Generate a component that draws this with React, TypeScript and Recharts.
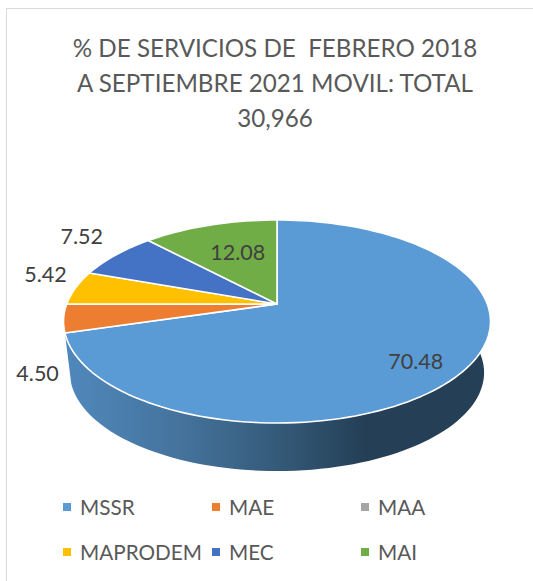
import { Legend, Pie, PieChart } from "recharts";

const categories = ["MSSR", "MAE", "MAA", "MAPRODEM", "MEC", "MAI"];
const shares = [70.48, 4.5, 0, 5.42, 7.52, 12.08];
const colors = ["#5b9bd5", "#ed7d31", "#a5a5a5", "#ffc000", "#4472c4", "#70ad47"];
const titleLines = ["% DE SERVICIOS DE  FEBRERO 2018", "A SEPTIEMBRE 2021 MOVIL: TOTAL", "30,966"];

const data = categories.map((name, i) => ({ name, value: shares[i], fill: colors[i] }));

const FONT = "Lato, 'Open Sans', sans-serif";
const TEXT = "#595959";

// tilted disc: the pie is drawn on a unit circle and projected with perspective
const RX = 210.3;
const RY = 98.5;
const PERSP = 0.1724;
const DEPTH = 51.6;
const BOTTOM_SCALE = 0.97;

function project(cx: number, cy: number, angle: number, r = 1) {
  const rad = (angle * Math.PI) / 180;
  const u = r * Math.cos(rad);
  const v = r * Math.sin(rad);
  const d = 1 + PERSP * v;
  return [cx + (RX * u) / d, cy - (RY * v) / d];
}

function arcPoints(cx: number, cy: number, from: number, to: number) {
  const steps = Math.max(2, Math.ceil(Math.abs(from - to) / 2));
  const pts = [];
  for (let i = 0; i <= steps; i++) {
    pts.push(project(cx, cy, from + ((to - from) * i) / steps));
  }
  return pts;
}

const toPath = (pts: number[][]) =>
  pts.map((p, i) => `${i ? "L" : "M"}${p[0].toFixed(2)} ${p[1].toFixed(2)}`).join(" ");

function TopSlice(props: any) {
  const { cx, cy, startAngle, endAngle, fill } = props;
  if (startAngle === endAngle) return null;
  const d = toPath([[cx, cy], ...arcPoints(cx, cy, startAngle, endAngle)]) + " Z";
  return <path d={d} fill={fill} stroke="#ffffff" strokeWidth={1.6} strokeLinejoin="round" />;
}

function WallSlice(props: any) {
  const { cx, cy, startAngle, endAngle, name } = props;
  if (name !== categories[0]) return null;
  const top = arcPoints(cx, cy, startAngle, endAngle);
  const bottom = top
    .map((p) => [cx + (p[0] - cx) * BOTTOM_SCALE, cy + (p[1] - cy) * BOTTOM_SCALE + DEPTH])
    .reverse();
  return (
    <g>
      <defs>
        <linearGradient id="wall" gradientUnits="userSpaceOnUse" x1={65} y1={0} x2={365} y2={0}>
          <stop offset="0%" stopColor="#5088bc" />
          <stop offset="40%" stopColor="#44729b" />
          <stop offset="70%" stopColor="#355b7a" />
          <stop offset="100%" stopColor="#243f56" />
        </linearGradient>
      </defs>
      <path d={toPath([...top, ...bottom]) + " Z"} fill="url(#wall)" />
    </g>
  );
}

// moved by hand in the original chart, offsets from the slice's mid point
const labelNudge: Record<string, number[]> = {
  MSSR: [2, 9],
  MAE: [-26, 55],
  MAPRODEM: [-30, -14],
  MEC: [-34, -19],
  MAI: [13, 9],
};
const labelRadius: Record<string, number> = { MSSR: 0.75, MAI: 0.75 };

function SliceLabel(props: any) {
  const { cx, cy, midAngle, name, value } = props;
  if (!value) return null;
  const [x, y] = project(cx, cy, midAngle, labelRadius[name] ?? 1);
  const [dx, dy] = labelNudge[name];
  return (
    <text
      x={x + dx}
      y={y + dy}
      fill="#404040"
      fontFamily={FONT}
      fontSize={21.5}
      textAnchor="middle"
      dominantBaseline="central"
    >
      {value.toFixed(2)}
    </text>
  );
}

function LegendGrid() {
  return (
    <div
      style={{
        display: "grid",
        gridTemplateColumns: "149px 149px 149px",
        gridAutoRows: "45px",
        fontFamily: FONT,
        fontSize: 20.7,
        color: TEXT,
      }}
    >
      {data.map((d) => (
        <div key={d.name} style={{ display: "flex", alignItems: "center", whiteSpace: "nowrap" }}>
          <span style={{ width: 8, height: 8, background: d.fill, marginRight: 9, flex: "none" }} />
          {d.name}
        </div>
      ))}
    </div>
  );
}

export default function App() {
  return (
    <div style={{ position: "absolute", left: 0, top: 0, width: 533, height: 581, background: "#fff", overflow: "hidden" }}>
      <div
        style={{
          position: "absolute",
          left: 6,
          top: 8,
          width: 540,
          height: 590,
          border: "1.5px solid #d9d9d9",
        }}
      />
      <PieChart
        width={533}
        height={581}
        margin={{ top: 0, right: 0, bottom: 0, left: 0 }}
        style={{ position: "absolute", left: 0, top: 0 }}
      >
        {titleLines.map((line, i) => (
          <text
            key={line}
            x={275}
            y={47 + i * 35}
            textAnchor="middle"
            dominantBaseline="central"
            fontFamily={FONT}
            fontSize={24.2}
            fill={TEXT}
            style={{ whiteSpace: "pre" }}
          >
            {line}
          </text>
        ))}
        <Pie
          data={data}
          dataKey="value"
          nameKey="name"
          cx={277}
          cy={304}
          outerRadius={100}
          startAngle={90}
          endAngle={-270}
          shape={WallSlice}
          isAnimationActive={false}
          legendType="none"
        />
        <Pie
          data={data}
          dataKey="value"
          nameKey="name"
          cx={277}
          cy={304}
          outerRadius={100}
          startAngle={90}
          endAngle={-270}
          shape={TopSlice}
          label={SliceLabel}
          labelLine={false}
          isAnimationActive={false}
        />
        <Legend
          content={LegendGrid}
          layout="horizontal"
          verticalAlign="bottom"
          wrapperStyle={{ left: 63, bottom: 7, width: 460 }}
        />
      </PieChart>
    </div>
  );
}
